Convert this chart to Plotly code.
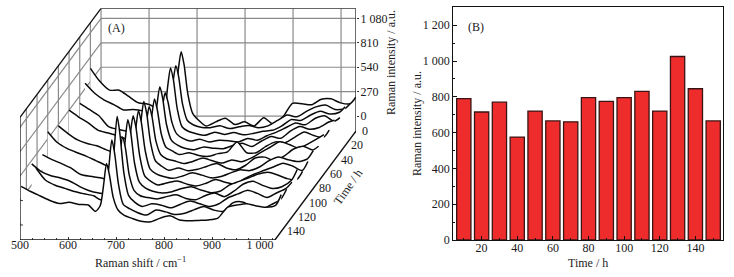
import plotly.graph_objects as go

# ---- Data -------------------------------------------------------------
raman_shift = [500,520,540,560,580,600,620,640,655,665,672,678,684,692,702,715,
               730,750,770,790,810,830,850,870,890,910,930,950,970,990,1010,1030,1042]
N = None
spec_150 = [412,355,305,255,222,235,212,205,135,200,430,665,540,290,150,90,60,25,20,60,85,40,30,35,40,60,180,205,220,195,180,200,320]
spec_140 = [N,535,400,345,310,275,250,228,185,260,560,845,690,350,130,85,45,15,70,50,20,35,75,110,70,55,150,160,110,75,130,190,300]
spec_130 = [501,415,370,345,310,250,205,180,170,290,680,1025,820,400,150,75,30,60,45,15,55,90,60,30,60,130,170,210,175,130,180,230,300]
spec_120 = [N,N,N,N,N,N,N,N,160,240,500,720,600,300,130,70,50,35,60,80,40,25,70,100,60,120,200,230,185,150,170,240,360]
spec_110 = [445,390,345,295,225,205,190,165,165,250,580,830,690,350,140,75,40,20,35,70,90,55,25,40,110,150,190,230,250,220,180,170,260]
spec_100 = [620,500,435,390,350,300,250,205,190,260,590,795,660,340,130,70,30,55,75,40,20,50,90,60,40,100,150,190,230,270,240,190,290]
spec_90  = [N,N,N,N,N,N,N,N,190,250,560,775,640,330,130,75,45,25,50,85,60,30,45,85,120,110,150,220,260,230,210,240,330]
spec_80  = [525,440,370,330,305,260,225,200,185,260,580,795,660,340,140,80,35,60,30,45,80,110,60,40,90,170,180,140,190,270,300,260,300]
spec_70  = [N,N,N,N,N,N,N,N,170,230,470,660,545,280,130,80,60,30,55,90,60,35,70,50,90,150,210,270,240,200,250,310,350]
spec_60  = [540,465,400,320,290,260,220,195,170,235,470,665,540,280,130,90,50,70,40,30,60,80,190,70,70,140,190,180,240,300,260,240,320]
spec_50  = [N,N,N,N,N,N,N,N,180,250,520,720,590,300,130,75,40,25,55,40,35,70,95,60,120,170,150,230,280,250,270,330,350]
spec_40  = [457,390,320,200,170,150,170,160,140,200,410,575,470,250,120,70,40,60,30,50,45,30,70,50,100,140,190,240,220,290,320,260,300]
spec_30  = [600,490,415,365,305,310,295,250,200,260,560,770,640,320,120,70,45,25,60,35,55,30,45,70,80,130,200,190,250,290,260,280,340]
spec_20  = [686,540,445,445,375,305,290,240,190,250,530,715,590,290,110,60,35,30,50,20,40,55,30,50,110,170,150,210,260,280,230,240,300]
spec_10  = [N,N,N,N,N,N,N,N,200,270,590,790,650,320,110,30,-30,15,55,-15,15,-30,60,-10,70,220,215,205,265,270,225,215,290]

spectra_times = [10,20,30,40,50,60,70,80,90,100,110,120,130,140,150]
spectra = [spec_10,spec_20,spec_30,spec_40,spec_50,spec_60,spec_70,spec_80,
           spec_90,spec_100,spec_110,spec_120,spec_130,spec_140,spec_150]

intensity_ticks = [0,270,540,810,1080]
intensity_labels = ["0","270","540","810","1 080"]
shift_ticks = [500,600,700,800,900,1000]
shift_labels = ["500","600","700","800","900","1 000"]
time_ticks = [0,20,40,60,80,100,120,140]

bar_times = [10,20,30,40,50,60,70,80,90,100,110,120,130,140,150]
bar_values = [790,715,770,575,720,665,660,795,775,795,830,720,1025,845,665]
bar_yticks = [0,200,400,600,800,1000,1200]
bar_ylabels = ["0","200","400","600","800","1 000","1 200"]
bar_xticks = [20,40,60,80,100,120,140]

# ---- Oblique projection of (shift, time, intensity) onto panel A axes ---
T_FRONT = 152
KX = 1.111
KY = 7.925
Z_FLOOR = -166
Z_TOP = 1190
S_MIN = 500
S_MAX = 1031

def px(s, t):
    return s + (T_FRONT - t) * KX

def py(t, z):
    return z + (T_FRONT - t) * KY

W, H = 734, 277
TXT = "#1a1a1a"
FONT = dict(family="Liberation Serif", size=12, color=TXT)
GRAY = "#8a8a8a"
shapes = []

def seg(s0, t0, z0, s1, t1, z1, color, width, layer):
    shapes.append(dict(type="line", xref="x", yref="y", layer=layer,
                       x0=px(s0, t0), y0=py(t0, z0), x1=px(s1, t1), y1=py(t1, z1),
                       line=dict(color=color, width=width)))

# back wall grid
for s in shift_ticks:
    seg(s, 0, Z_FLOOR, s, 0, Z_TOP, GRAY, 1.2, "below")
for z in intensity_ticks:
    seg(S_MIN, 0, z, S_MAX, 0, z, GRAY, 1.2, "below")
    seg(S_MIN, 0, z, S_MIN, T_FRONT, z, GRAY, 1.2, "below")
# left wall grid
for t in time_ticks[1:]:
    seg(S_MIN, t, Z_FLOOR, S_MIN, t, Z_TOP, GRAY, 1.2, "below")
# frame
seg(S_MIN, T_FRONT, Z_TOP, S_MIN, 0, Z_TOP, "#111", 1.3, "above")
seg(S_MIN, 0, Z_TOP, S_MAX, 0, Z_TOP, "#333", 1.2, "above")
seg(S_MAX, 0, Z_TOP, S_MAX, 0, Z_FLOOR, "#222", 1.2, "above")
seg(S_MIN, T_FRONT, Z_TOP, S_MIN, T_FRONT, Z_FLOOR, "#111", 1.3, "above")
seg(S_MIN, T_FRONT, Z_FLOOR, S_MAX, T_FRONT, Z_FLOOR, "#111", 1.4, "above")
seg(S_MAX, T_FRONT, Z_FLOOR, S_MAX, 0, Z_FLOOR, "#111", 1.4, "above")
for z in intensity_ticks[:2]:
    seg(S_MIN, T_FRONT, z, S_MIN + 6, T_FRONT, z, "#333", 1, "above")

fig = go.Figure()

# back-to-front hidden-line waterfall
for t, vals in zip(spectra_times, spectra):
    pairs = [(s, v) for s, v in zip(raman_shift, vals) if v is not None]
    xs = [px(s, t) for s, _ in pairs]
    ys = [py(t, v) for _, v in pairs]
    floor = py(t, Z_FLOOR)
    fig.add_trace(go.Scatter(x=xs + [xs[-1], xs[0]], y=ys + [floor, floor],
                             mode="lines", fill="toself", fillcolor="white",
                             line=dict(width=0, color="white"),
                             hoverinfo="skip", showlegend=False, xaxis="x", yaxis="y"))
    fig.add_trace(go.Scatter(x=xs, y=ys, mode="lines", name=f"{t} h",
                             line=dict(color="#0a0a0a", width=1.5, shape="spline", smoothing=0.7),
                             showlegend=False, xaxis="x", yaxis="y"))

fig.add_trace(go.Bar(x=bar_times, y=bar_values, width=8,
                     marker=dict(color="#EE2C2C", line=dict(color="#3a1414", width=1.3)),
                     showlegend=False, xaxis="x2", yaxis="y2"))

annotations = []
for t in time_ticks:
    annotations.append(dict(x=px(S_MAX, t), y=py(t, Z_FLOOR), xref="x", yref="y", text=str(t),
                            showarrow=False, xanchor="left", yanchor="middle", xshift=4,
                            font=FONT))

def note(x, y, text, angle=0):
    annotations.append(dict(x=x/W, y=1-y/H, xref="paper", yref="paper", showarrow=False, text=text,
                            textangle=angle, xanchor="center", yanchor="middle", font=FONT))

note(348, 187, "Time / h", -55)
note(140, 262, "Raman shift / cm<sup>−1</sup>")
note(391, 63, "Raman intensity / a.u.", -90)
note(116, 28, "(A)")
note(476, 27, "(B)")
note(417, 124, "Raman intensity / a.u.", -90)
note(588, 263, "Time / h")

fig.update_layout(
    width=W, height=H, margin=dict(l=0, r=0, t=0, b=0, autoexpand=False),
    paper_bgcolor="white", plot_bgcolor="rgba(0,0,0,0)",
    showlegend=False, shapes=shapes, annotations=annotations, font=FONT,
    xaxis=dict(domain=[20/W, 356/W], range=[500, 1200], showgrid=False, zeroline=False,
               showline=False, tickmode="array", tickvals=shift_ticks, ticktext=shift_labels,
               ticks="inside", ticklen=3, tickcolor="#333", tickfont=FONT, anchor="y", ticklabelstandoff=-4,
               minor=dict(tickmode="array", tickvals=[v for v in range(525, 1031, 25) if v % 100],
                          ticks="inside", ticklen=2, tickcolor="#444")),
    yaxis=dict(domain=[(H-240)/H, (H-8.33)/H], range=[Z_FLOOR, 2396], showgrid=False, zeroline=False,
               showline=False, side="right", anchor="x", tickmode="array",
               tickvals=[py(0, z) for z in intensity_ticks], ticktext=intensity_labels,
               ticks="outside", ticklen=2, tickcolor="#333", tickfont=FONT, ticklabelstandoff=-1),
    xaxis2=dict(domain=[453.3/W, 723/W], range=[4.1, 155.5], anchor="y2", showgrid=False, zeroline=False,
                showline=True, mirror=True, linecolor="#111", linewidth=1.3,
                tickmode="array", tickvals=bar_xticks, ticks="inside", ticklen=4, tickcolor="#111",
                tickfont=FONT, ticklabelstandoff=-4,
                minor=dict(tickmode="array", tickvals=[10,30,50,70,90,110,130,150], ticks="inside",
                           ticklen=2, tickcolor="#111")),
    yaxis2=dict(domain=[(H-240)/H, (H-7.3)/H], range=[0, 1300], anchor="x2", showgrid=False, zeroline=False,
                showline=True, mirror=True, linecolor="#111", linewidth=1.3,
                tickmode="array", tickvals=bar_yticks, ticktext=bar_ylabels, ticks="inside", ticklen=4,
                tickcolor="#111", tickfont=FONT,
                minor=dict(tickmode="array", tickvals=[100,300,500,700,900,1100], ticks="inside",
                           ticklen=2, tickcolor="#111")),
)

fig.write_html("out.html", config=dict(displayModeBar=False),
               post_script="document.body.style.margin='0';document.documentElement.style.overflow='hidden';")
